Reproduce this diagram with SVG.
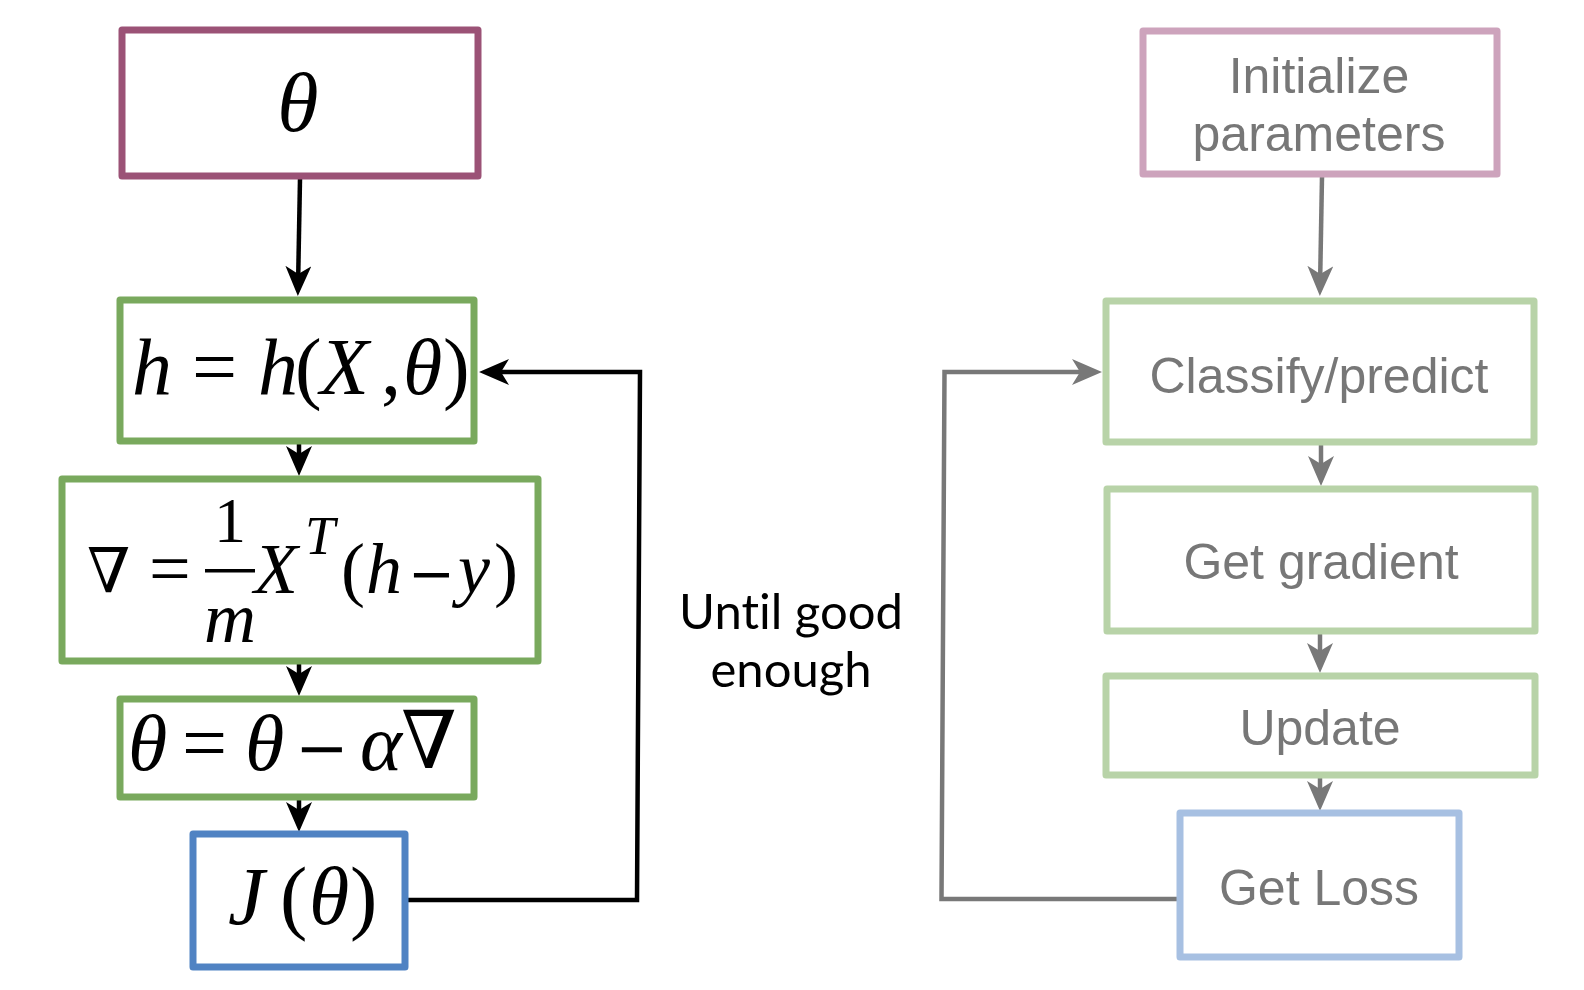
<svg xmlns="http://www.w3.org/2000/svg" width="1584" height="990" viewBox="0 0 1584 990">
<style>
.box{fill:#ffffff;stroke-width:7;stroke-linejoin:round}
.m{font-family:"Liberation Serif","DejaVu Serif",serif;fill:#000}
.i{font-style:italic}
.sym{font-family:"DejaVu Serif",serif;fill:#000}
.lbl{font-family:"Liberation Sans",Arial,sans-serif;fill:#777777;text-anchor:middle;font-size:50px}
.blk{stroke:#000;stroke-width:4.5;fill:none}
.gry{stroke:#787878;stroke-width:4.5;fill:none}
</style>
<defs>
<marker id="ab" viewBox="0 0 30 26" refX="22" refY="13" markerWidth="30" markerHeight="26" markerUnits="userSpaceOnUse" orient="auto">
<path d="M0,0 L30,13 L0,26 L8,13 Z" fill="#000"/>
</marker>
<marker id="ag" viewBox="0 0 30 26" refX="22" refY="13" markerWidth="30" markerHeight="26" markerUnits="userSpaceOnUse" orient="auto">
<path d="M0,0 L30,13 L0,26 L8,13 Z" fill="#787878"/>
</marker>
</defs>
<rect width="1584" height="990" fill="#ffffff"/>

<g id="connectors">
<path class="blk" d="M300,179 L298,288" marker-end="url(#ab)"/>
<path class="blk" d="M299,444 L299,468" marker-end="url(#ab)"/>
<path class="blk" d="M299,664 L299,688" marker-end="url(#ab)"/>
<path class="blk" d="M299,800 L299,824" marker-end="url(#ab)"/>
<path class="blk" d="M408,900 L637,900 L640,372 L487,372" marker-end="url(#ab)"/>
<path class="gry" d="M1322,177 L1320,288" marker-end="url(#ag)"/>
<path class="gry" d="M1321,445 L1321,478" marker-end="url(#ag)"/>
<path class="gry" d="M1320,634 L1320,665" marker-end="url(#ag)"/>
<path class="gry" d="M1320,778 L1320,803" marker-end="url(#ag)"/>
<path class="gry" d="M1177,899 L941.5,899 L944.5,372 L1094,372" marker-end="url(#ag)"/>
</g>

<g id="n_theta">
<rect class="box" x="122" y="30" width="356" height="146" stroke="#9B5276"/>
<text class="m i" x="298" y="131" font-size="84" text-anchor="middle">θ</text>
</g>

<g id="n_h">
<rect class="box" x="120" y="300" width="354" height="141" stroke="#79A95D"/>
<text class="m" font-size="80" y="394"><tspan class="i" x="132">h</tspan><tspan x="192">=</tspan><tspan class="i" x="258">h</tspan><tspan x="295">(</tspan><tspan class="i" x="320">X</tspan><tspan x="381">,</tspan><tspan class="i" x="403">θ</tspan><tspan x="443">)</tspan></text>
</g>

<g id="n_grad">
<rect class="box" x="62" y="479" width="476" height="182" stroke="#79A95D"/>
<text class="sym" font-size="62" x="87" y="592">∇</text>
<text class="m" font-size="74" x="149" y="593">=</text>
<text class="m" font-size="64" x="230" y="542" text-anchor="middle">1</text>
<rect x="205" y="569" width="50" height="3.5" fill="#000"/>
<text class="m i" font-size="72" x="230" y="642" text-anchor="middle">m</text>
<text class="m" font-size="72" y="593"><tspan class="i" x="254">X</tspan><tspan x="341">(</tspan><tspan class="i" x="366">h</tspan></text>
<text class="sym" font-size="56" x="408" y="593">−</text>
<text class="m" font-size="72" y="593"><tspan class="i" x="458">y</tspan><tspan x="494">)</tspan></text>
<text class="m i" font-size="54" x="305" y="554">T</text>
</g>

<g id="n_update">
<rect class="box" x="120" y="699" width="354" height="98" stroke="#79A95D"/>
<text class="m" font-size="80" y="770"><tspan class="i" x="128">θ</tspan><tspan x="182">=</tspan><tspan class="i" x="245">θ</tspan></text>
<text class="sym" font-size="64" x="295" y="770">−</text>
<text class="m i" font-size="80" x="360" y="770">α</text>
<text class="sym" font-size="80" x="401" y="768">∇</text>
</g>

<g id="n_J">
<rect class="box" x="193" y="834" width="212" height="133" stroke="#5083C3"/>
<text class="m" font-size="82" y="924"><tspan class="i" x="228">J</tspan><tspan x="280">(</tspan><tspan class="i" x="309">θ</tspan><tspan x="350">)</tspan></text>
</g>

<g id="label_until">
<text font-family="Lato,'Open Sans',sans-serif" font-size="49" fill="#000" text-anchor="middle" style="font-variant-ligatures:none"><tspan x="791" y="629">Until good</tspan><tspan x="791" y="687">enough</tspan></text>
</g>

<g id="n_init">
<rect class="box" x="1143" y="31" width="354" height="143" stroke="#CDA3BC"/>
<text class="lbl"><tspan x="1319" y="93">Initialize</tspan><tspan x="1319" y="151">parameters</tspan></text>
</g>

<g id="n_classify">
<rect class="box" x="1106" y="301" width="428" height="141" stroke="#B8D3A8"/>
<text class="lbl" x="1319" y="393">Classify/predict</text>
</g>

<g id="n_getgrad">
<rect class="box" x="1107" y="489" width="428" height="142" stroke="#B8D3A8"/>
<text class="lbl" x="1321" y="579">Get gradient</text>
</g>

<g id="n_upd">
<rect class="box" x="1106" y="676" width="429" height="99" stroke="#B8D3A8"/>
<text class="lbl" x="1320" y="745">Update</text>
</g>

<g id="n_loss">
<rect class="box" x="1180" y="813" width="279" height="144" stroke="#A7C0E2"/>
<text class="lbl" x="1319" y="905">Get Loss</text>
</g>
</svg>
